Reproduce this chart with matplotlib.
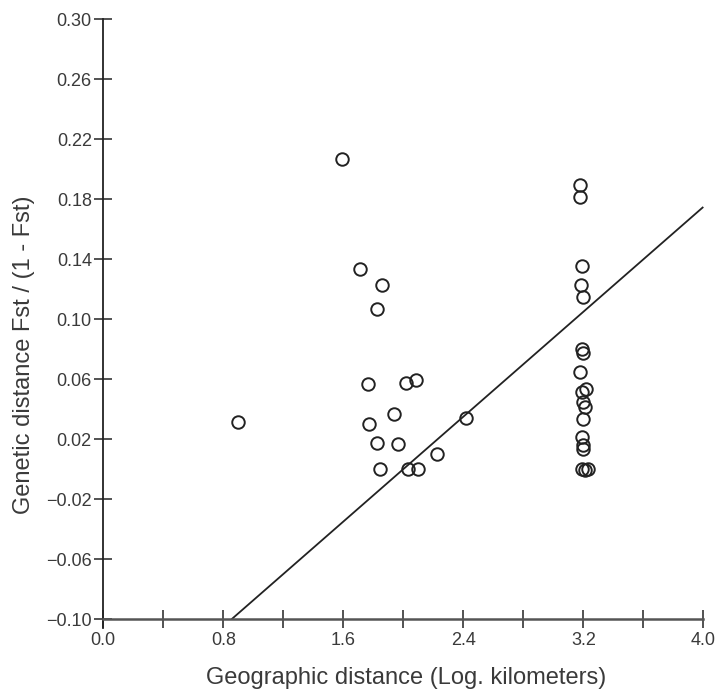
import matplotlib
matplotlib.use("Agg")
import matplotlib.pyplot as plt
import numpy as np

plt.rcParams['font.family'] = ['Liberation Sans', 'DejaVu Sans']

# Pairwise population comparisons: log geographic distance vs Fst/(1-Fst)
geo_dist = [
    0.898, 1.589, 1.709, 1.860, 1.827, 1.767, 2.016, 2.083,
    1.938, 1.773, 1.827, 1.965, 2.227, 2.416, 1.845, 2.033, 2.100,
    3.178, 3.178, 3.189, 3.183, 3.196,
    3.189, 3.196, 3.178, 3.218, 3.189, 3.200, 3.211, 3.200,
    3.189, 3.200, 3.200, 3.189, 3.211, 3.231,
]
gen_dist = [
    0.0313, 0.2067, 0.1338, 0.1227, 0.1067, 0.0567, 0.0572, 0.0598,
    0.0367, 0.0305, 0.0176, 0.0167, 0.0105, 0.0345, 0.0000, 0.0000, 0.0000,
    0.1893, 0.1815, 0.1353, 0.1227, 0.1149,
    0.0805, 0.0772, 0.0649, 0.0538, 0.0516, 0.0449, 0.0415, 0.0338,
    0.0215, 0.0160, 0.0138, 0.0003, -0.0007, 0.0003,
]

# Least-squares regression line
slope = 0.0874
intercept = -0.1747

x_ticks = [0.0, 0.4, 0.8, 1.2, 1.6, 2.0, 2.4, 2.8, 3.2, 3.6, 4.0]
x_labels = ["0.0", "", "0.8", "", "1.6", "", "2.4", "", "3.2", "", "4.0"]
y_ticks = [-0.10, -0.06, -0.02, 0.02, 0.06, 0.10, 0.14, 0.18, 0.22, 0.26, 0.30]
y_labels = ["%.2f" % v if v >= 0 else "\u2212%.2f" % abs(v) for v in y_ticks]

W, H = 719, 691
fig = plt.figure(figsize=(W / 100, H / 100), dpi=100)
ax = fig.add_axes([103.3 / W, (H - 619.3) / H, 600 / W, 600 / H])

x0 = (-0.10 - intercept) / slope
xl = np.array([x0, 4.0])
ax.plot(xl, intercept + slope * xl, color="#222222", lw=1.3,
        solid_capstyle="butt", clip_on=False)

ax.plot(geo_dist, gen_dist, linestyle="none", marker="o", ms=9, mfc="none",
        mec="#222222", mew=1.4, clip_on=False)

ax.set_xlim(0.0, 4.0)
ax.set_ylim(-0.10, 0.30)
ax.set_xticks(x_ticks)
ax.set_xticklabels(x_labels)
ax.set_yticks(y_ticks)
ax.set_yticklabels(y_labels)

for s in ("top", "right"):
    ax.spines[s].set_visible(False)
ax.spines["left"].set_color("#222222")
ax.spines["left"].set_linewidth(1.3)
ax.spines["left"].set_bounds(-0.1055, 0.30)
ax.spines["bottom"].set_color("#555555")
ax.spines["bottom"].set_linewidth(1.8)

ax.tick_params(direction="inout", length=12.5, width=1.3, color="#444444",
               labelsize=13, labelcolor="#3a3a3a")
ax.tick_params(axis="x", pad=3)
ax.tick_params(axis="y", pad=2)

fig.text(406 / W, (H - 684) / H, "Geographic distance (Log. kilometers)",
         fontsize=17, color="#3a3a3a", ha="center", va="baseline")
fig.text(24 / W, (H - 355) / H, "Genetic distance Fst / (1 - Fst)",
         fontsize=17, color="#3a3a3a", ha="center", va="center", rotation=90)

fig.savefig("out.png", dpi=100)
